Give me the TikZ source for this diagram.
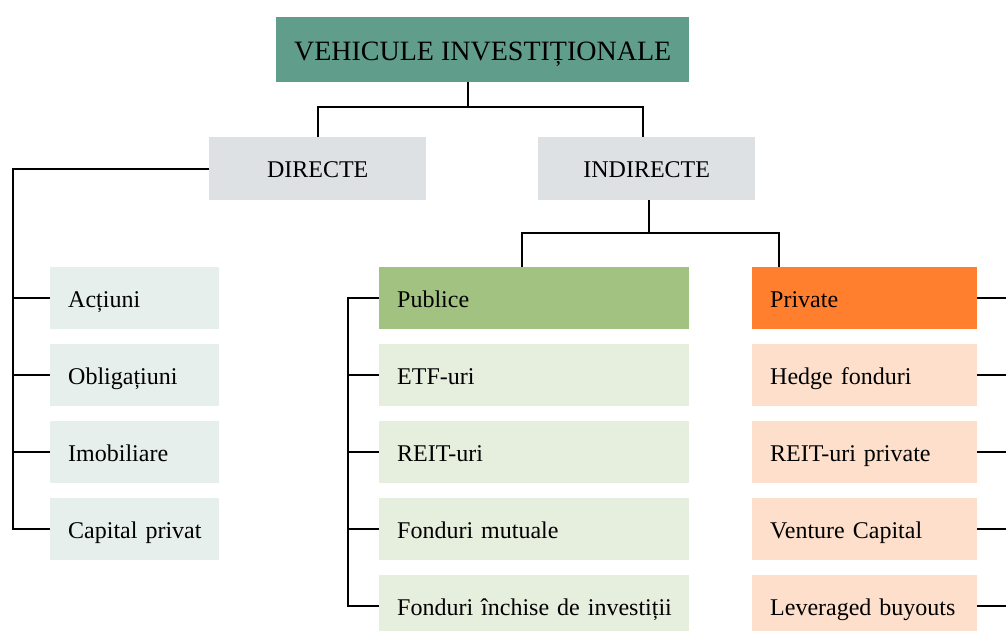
\documentclass[tikz,border=0pt]{standalone}
\usepackage{fontspec}
\setmainfont{Liberation Serif}
\definecolor{rootfill}{HTML}{609E8B}
\definecolor{catfill}{HTML}{DEE1E4}
\definecolor{dirfill}{HTML}{E6EFEC}
\definecolor{pubfill}{HTML}{A2C282}
\definecolor{publight}{HTML}{E6EEDD}
\definecolor{privfill}{HTML}{FF7F2F}
\definecolor{privlight}{HTML}{FDDFCB}
\tikzset{
  box/.style={anchor=north west, minimum height=62pt, inner sep=0pt,
    text height=20pt, text depth=1.5pt,
    font=\fontsize{24}{28}\selectfont},
  catbox/.style={box, fill=catfill, minimum width=217pt, minimum height=63pt},
  leftbox/.style={box, fill=dirfill, minimum width=169pt, inner xsep=18pt,
    text width=133pt, align=left},
  pubbox/.style={box, fill=publight, minimum width=310pt, inner xsep=18pt,
    text width=274pt, align=left},
  privbox/.style={box, fill=privlight, minimum width=225pt, inner xsep=18pt,
    text width=189pt, align=left},
  link/.style={draw=black, line width=2pt}
}
\begin{document}
\begin{tikzpicture}[x=1pt,y=-1pt]
        % the page
        \clip (0,0) rectangle (1006,630);
        \fill[white] (0,0) rectangle (1006,630);
        % the root
        \node[box, fill=rootfill, minimum width=413pt, minimum height=65pt,
          text height=22pt, text depth=1pt,
          font=\fontsize{28}{32}\selectfont] (root) at (276,17) {VEHICULE INVESTIȚIONALE};
        % the two categories
        \node[catbox] (directe) at (209,137) {DIRECTE};
        \node[catbox] (indirecte) at (538,137) {INDIRECTE};
        % direct vehicles
        \node[leftbox] (actiuni) at (50,267) {\mbox{Acțiuni}};
        \node[leftbox] (obligatiuni) at (50,344) {\mbox{Obligațiuni}};
        \node[leftbox] (imobiliare) at (50,421) {\mbox{Imobiliare}};
        \node[leftbox] (capital) at (50,498) {\mbox{Capital privat}};
        % public indirect vehicles
        \node[pubbox, fill=pubfill] (publice) at (379,267) {\mbox{Publice}};
        \node[pubbox] (etf) at (379,344) {\mbox{ETF-uri}};
        \node[pubbox] (reit) at (379,421) {\mbox{REIT-uri}};
        \node[pubbox] (mutuale) at (379,498) {\mbox{Fonduri mutuale}};
        \node[pubbox] (inchise) at (379,575) {\mbox{Fonduri închise de investiții}};
        % private indirect vehicles
        \node[privbox, fill=privfill] (private) at (752,267) {\mbox{Private}};
        \node[privbox] (hedge) at (752,344) {\mbox{Hedge fonduri}};
        \node[privbox] (reitpriv) at (752,421) {\mbox{REIT-uri private}};
        \node[privbox] (venture) at (752,498) {\mbox{Venture Capital}};
        \node[privbox] (lbo) at (752,575) {\mbox{Leveraged buyouts}};

        % root to categories
        \draw[link] ([xshift=-15pt]root.south) -- ++(0,25) -| (directe.north);
        \draw[link] ([xshift=-15pt]root.south) -- ++(0,25) -| ([xshift=-4pt]indirecte.north);
        % direct branch
        \draw[link] (directe.west) -- ++(-196,0) |- (capital.west);
        \foreach \n in {actiuni,obligatiuni,imobiliare}
            \draw[link] (\n.west) -- ++(-37,0);
        % indirect branch
        \draw[link] ([xshift=2pt]indirecte.south) -- ++(0,33) -| ([xshift=-12pt]publice.north);
        \draw[link] ([xshift=2pt]indirecte.south) -- ++(0,33) -| ([xshift=-86pt]private.north);
        % public list
        \draw[link] (publice.west) -- ++(-31,0) |- (inchise.west);
        \foreach \n in {etf,reit,mutuale}
            \draw[link] (\n.west) -- ++(-31,0);
        % private list, spine off the page
        \foreach \n in {private,hedge,reitpriv,venture,lbo}
            \draw[link] (\n.east) -- ++(40,0);
\end{tikzpicture}
\end{document}
